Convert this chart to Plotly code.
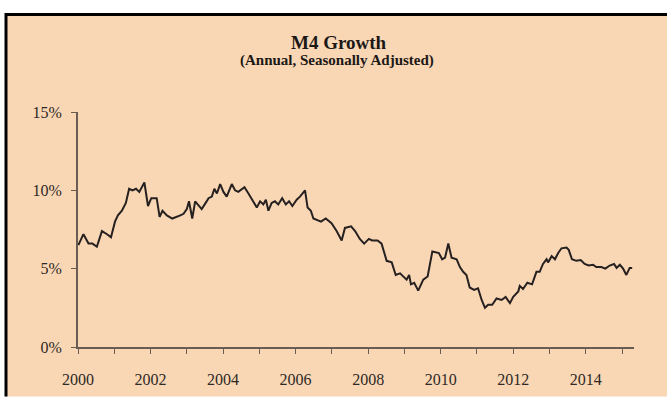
import plotly.graph_objects as go

# M4 money supply growth, annual rate, seasonally adjusted (percent)
years = [
    2000.01, 2000.15, 2000.29, 2000.40, 2000.52, 2000.66, 2000.80, 2000.91,
    2001.02, 2001.10, 2001.21, 2001.32, 2001.41, 2001.50, 2001.60, 2001.69,
    2001.83, 2001.93, 2002.02, 2002.17, 2002.25, 2002.33, 2002.45, 2002.60,
    2002.82, 2002.91, 2003.00, 2003.06, 2003.15, 2003.23, 2003.30, 2003.41,
    2003.52, 2003.60, 2003.69, 2003.76, 2003.83, 2003.92, 2004.01, 2004.10,
    2004.24, 2004.33, 2004.42, 2004.59, 2004.70, 2004.83, 2004.93, 2005.02,
    2005.11, 2005.18, 2005.25, 2005.34, 2005.43, 2005.52, 2005.63, 2005.73,
    2005.82, 2005.91, 2006.03, 2006.12, 2006.26, 2006.33, 2006.42, 2006.49,
    2006.58, 2006.70, 2006.83, 2006.99, 2007.13, 2007.27, 2007.36, 2007.53,
    2007.64, 2007.77, 2007.89, 2008.02, 2008.11, 2008.26, 2008.37, 2008.51,
    2008.65, 2008.76, 2008.88, 2008.97, 2009.06, 2009.13, 2009.18, 2009.27,
    2009.38, 2009.52, 2009.64, 2009.77, 2009.89, 2009.95, 2010.04, 2010.12,
    2010.21, 2010.30, 2010.44, 2010.53, 2010.62, 2010.71, 2010.80, 2010.92,
    2011.03, 2011.13, 2011.22, 2011.31, 2011.42, 2011.54, 2011.68, 2011.79,
    2011.91, 2012.00, 2012.14, 2012.18, 2012.27, 2012.39, 2012.52, 2012.64,
    2012.73, 2012.82, 2012.92, 2012.96, 2013.06, 2013.15, 2013.24, 2013.33,
    2013.47, 2013.53, 2013.62, 2013.74, 2013.86, 2013.97, 2014.08, 2014.20,
    2014.29, 2014.43, 2014.54, 2014.66, 2014.78, 2014.85, 2014.94, 2015.03,
    2015.12, 2015.21, 2015.28,
]
growth = [
    6.5, 7.2, 6.6, 6.6, 6.4, 7.4, 7.2, 7.0,
    8.0, 8.4, 8.7, 9.2, 10.1, 10.0, 10.1, 9.9,
    10.5, 9.0, 9.5, 9.5, 8.3, 8.7, 8.4, 8.2,
    8.4, 8.5, 8.8, 9.3, 8.2, 9.3, 9.1, 8.8,
    9.2, 9.5, 9.6, 10.1, 9.8, 10.4, 9.9, 9.6,
    10.4, 10.0, 9.9, 10.2, 9.8, 9.3, 8.9, 9.3,
    9.1, 9.4, 8.7, 9.2, 9.3, 9.1, 9.5, 9.1,
    9.3, 9.0, 9.4, 9.6, 10.0, 8.9, 8.7, 8.2,
    8.1, 8.0, 8.2, 7.9, 7.4, 6.8, 7.6, 7.7,
    7.4, 6.9, 6.6, 6.9, 6.8, 6.8, 6.6, 5.5,
    5.4, 4.6, 4.7, 4.5, 4.3, 4.6, 4.0, 4.1,
    3.6, 4.3, 4.5, 6.1, 6.0, 6.0, 5.6, 5.7,
    6.6, 5.7, 5.6, 5.1, 4.8, 4.6, 3.8, 3.65,
    3.75, 3.0, 2.5, 2.7, 2.7, 3.1, 3.0, 3.2,
    2.8, 3.2, 3.55, 3.9, 3.7, 4.1, 4.0, 4.8,
    4.8, 5.3, 5.6, 5.4, 5.8, 5.6, 6.0, 6.3,
    6.35, 6.2, 5.6, 5.5, 5.55, 5.3, 5.2, 5.25,
    5.1, 5.1, 5.0, 5.2, 5.3, 5.05, 5.25, 5.0,
    4.6, 5.05, 5.05,
]

tick_years = list(range(2000, 2016))
tick_labels = [str(y) if y % 2 == 0 else "" for y in tick_years]
y_ticks = [0, 5, 10, 15]
y_labels = ["0%", "5%", "10%", "15%"]

title_text = "M4 Growth"
subtitle_text = "(Annual, Seasonally Adjusted)"

W, H = 667, 400
ML, MR, MT, MB = 78, 33, 112, 46
PW, PH = W - ML - MR, H - MT - MB

PEACH = "#F9D7B5"
AXIS = "#6a5c53"
TEXT = "#2e2926"
FONT = "Liberation Serif"


def px_x(px):
    return (px - ML) / PW


def px_y(py):
    return (H - MB - py) / PH


fig = go.Figure(
    go.Scatter(
        x=years,
        y=growth,
        mode="lines",
        line=dict(color="#262120", width=2),
        hoverinfo="skip",
    )
)

shapes = [
    # peach panel
    dict(type="rect", xref="paper", yref="paper",
         x0=px_x(5), x1=px_x(W + 5), y0=px_y(H + 5), y1=px_y(11),
         fillcolor=PEACH, line=dict(width=0), layer="below"),
    # black frame: left and top edges
    dict(type="line", xref="paper", yref="paper",
         x0=px_x(6), x1=px_x(6), y0=px_y(H + 5), y1=px_y(10),
         line=dict(color="black", width=3), layer="above"),
    dict(type="line", xref="paper", yref="paper",
         x0=px_x(5), x1=px_x(W + 5), y0=px_y(11.5), y1=px_y(11.5),
         line=dict(color="black", width=3), layer="above"),
]

annotations = [
    dict(text="<b>" + title_text + "</b>", xref="paper", yref="paper",
         x=px_x(339), y=px_y(40), xanchor="center", yanchor="middle",
         showarrow=False, font=dict(family=FONT, size=19, color="#1c1816")),
    dict(text="<b>" + subtitle_text + "</b>", xref="paper", yref="paper",
         x=px_x(337), y=px_y(59), xanchor="center", yanchor="middle",
         showarrow=False, font=dict(family=FONT, size=15, color="#1c1816")),
]

fig.update_layout(
    width=W, height=H,
    margin=dict(l=ML, r=MR, t=MT, b=MB, pad=0),
    paper_bgcolor="white",
    plot_bgcolor="rgba(0,0,0,0)",
    showlegend=False,
    shapes=shapes,
    annotations=annotations,
    font=dict(family=FONT, color=TEXT),
)

fig.update_xaxes(
    range=[2000, 2015.33],
    tickmode="array", tickvals=tick_years, ticktext=tick_labels,
    ticks="outside", ticklen=5, tickwidth=1.4, tickcolor=AXIS,
    showline=True, linecolor=AXIS, linewidth=2,
    showgrid=False, zeroline=False,
    tickfont=dict(family=FONT, size=16, color=TEXT),
    ticklabelstandoff=12,
)
fig.update_yaxes(
    range=[0, 15],
    tickmode="array", tickvals=y_ticks, ticktext=y_labels,
    ticks="outside", ticklen=5, tickwidth=1.4, tickcolor=AXIS,
    showline=True, linecolor=AXIS, linewidth=2,
    showgrid=False, zeroline=False,
    tickfont=dict(family=FONT, size=16, color=TEXT),
    ticklabelstandoff=6,
)

fig.write_html("out.html")
